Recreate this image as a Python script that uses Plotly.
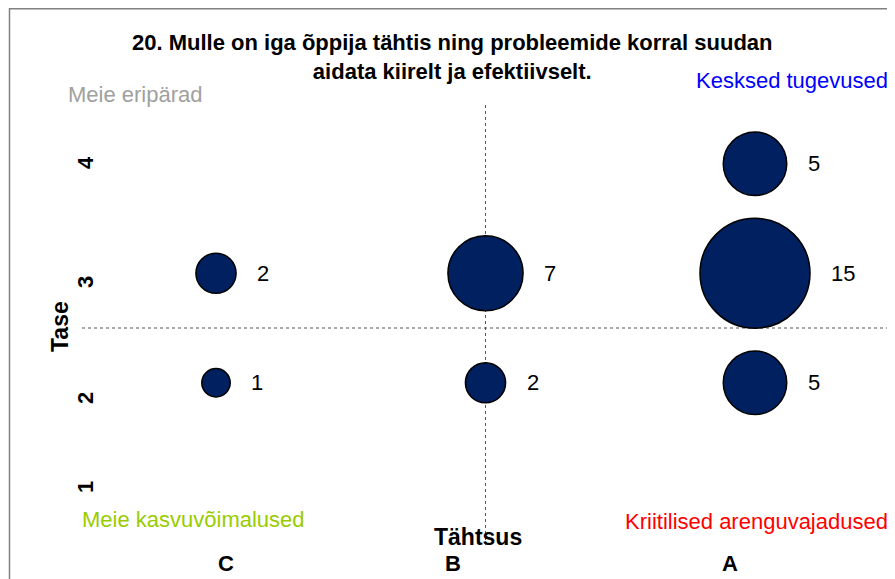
import plotly.graph_objects as go
import math

# ---- data ----
categories = ["C", "B", "A"]          # x categories (Tähtsus)
x_index = [1, 1, 2, 2, 3, 3, 3]        # 1=C, 2=B, 3=A
y_level = [3, 2, 3, 2, 4, 3, 2]        # Tase
counts = [2, 1, 7, 2, 5, 15, 5]
y_ticks = [1, 2, 3, 4]

# page body has an 8px default margin -> work in reference pixels, shift by OFF
OFF = 8
W, H = 895 - OFF, 579 - OFF
# plot area in reference pixels
PL, PR, PT, PB = 95, 889, 109, 547
ML, MR, MT, MB = PL - OFF, W - (PR - OFF), PT - OFF, H - (PB - OFF)
PW, PH = W - ML - MR, H - MT - MB

def px(xr):
    return (xr - OFF - ML) / PW

def py(yr):
    return (H - MB - (yr - OFF)) / PH

FONT = "Liberation Sans, Arial, sans-serif"
FS = 22
maxc = max(counts)
diam = [110 * math.sqrt(c / maxc) for c in counts]

fig = go.Figure()
fig.add_trace(go.Scatter(
    x=x_index, y=y_level, mode="markers",
    marker=dict(size=diam, sizemode="diameter", color="#00205f",
                line=dict(color="black", width=1.5), opacity=1),
    hoverinfo="skip", showlegend=False,
))

ann = []
for xi, yi, c, d in zip(x_index, y_level, counts, diam):
    ann.append(dict(x=xi, y=yi, xref="x", yref="y", text=str(c), showarrow=False,
                    xanchor="left", yanchor="middle", xshift=d / 2 + 19,
                    font=dict(family=FONT, size=FS, color="black")))

# title
title_text = ("<b>20. Mulle on iga õppija tähtis ning probleemide korral suudan<br>"
              "aidata kiirelt ja efektiivselt.</b>")
ann.append(dict(x=px(452), y=py(56.5), xref="paper", yref="paper", text=title_text,
                showarrow=False, xanchor="center", yanchor="middle", align="center",
                font=dict(family=FONT, size=22, color="black")))

# category labels
cat_px = [226, 453, 730]
for lab, xr in zip(categories, cat_px):
    ann.append(dict(x=px(xr), y=py(563), xref="paper", yref="paper", text="<b>%s</b>" % lab,
                    showarrow=False, xanchor="center", yanchor="middle",
                    font=dict(family=FONT, size=FS, color="black")))

# y tick labels (rotated)
ytick_py = [487, 398, 282, 163]
for lab, yr in zip(y_ticks, ytick_py):
    ann.append(dict(x=px(85), y=py(yr), xref="paper", yref="paper", text="<b>%d</b>" % lab,
                    showarrow=False, xanchor="center", yanchor="middle", textangle=-90,
                    font=dict(family=FONT, size=22, color="black")))

# axis titles
ann.append(dict(x=px(478), y=py(537), xref="paper", yref="paper", text="<b>Tähtsus</b>",
                showarrow=False, xanchor="center", yanchor="middle",
                font=dict(family=FONT, size=23, color="black")))
ann.append(dict(x=px(60), y=py(327), xref="paper", yref="paper", text="<b>Tase</b>",
                showarrow=False, xanchor="center", yanchor="middle", textangle=-90,
                font=dict(family=FONT, size=23, color="black")))

# quadrant labels
ann.append(dict(x=px(66), y=py(95), xref="paper", yref="paper", text="Meie eripärad",
                showarrow=False, xanchor="left", yanchor="middle",
                font=dict(family=FONT, size=FS, color="#a0a0a0")))
ann.append(dict(x=px(890), y=py(80), xref="paper", yref="paper", text="Kesksed tugevused",
                showarrow=False, xanchor="right", yanchor="middle",
                font=dict(family=FONT, size=FS, color="#0000ff")))
ann.append(dict(x=px(80), y=py(519), xref="paper", yref="paper", text="Meie kasvuvõimalused",
                showarrow=False, xanchor="left", yanchor="middle",
                font=dict(family=FONT, size=FS, color="#99cc00")))
ann.append(dict(x=px(890), y=py(521), xref="paper", yref="paper", text="Kriitilised arenguvajadused",
                showarrow=False, xanchor="right", yanchor="middle",
                font=dict(family=FONT, size=FS, color="#ff0000")))

shapes = [
    dict(type="line", xref="x", yref="paper", x0=2, x1=2, y0=py(105), y1=py(545),
         line=dict(color="#555555", width=1, dash="dot"), layer="below"),
    dict(type="line", xref="paper", yref="y", x0=px(82), x1=px(888), y0=2.5, y1=2.5,
         line=dict(color="#555555", width=1, dash="dot"), layer="below"),
    dict(type="rect", xref="paper", yref="paper", x0=px(9.5), x1=px(910), y0=py(8.7), y1=py(600),
         line=dict(color="#808080", width=1.5), fillcolor="rgba(0,0,0,0)"),
]

# x range chosen so that C,B,A centres fall at ref px 216, 486, 755
x_lo = 1 + (PL - 216) / 269.5
x_hi = 1 + (PR - 216) / 269.5

fig.update_layout(
    width=W, height=H,
    margin=dict(l=ML, r=MR, t=MT, b=MB),
    paper_bgcolor="white", plot_bgcolor="white",
    xaxis=dict(range=[x_lo, x_hi], showgrid=False, zeroline=False, showticklabels=False,
               showline=False, ticks=""),
    yaxis=dict(range=[0.5, 4.5], showgrid=False, zeroline=False, showticklabels=False,
               showline=False, ticks=""),
    annotations=ann, shapes=shapes,
)

fig.write_html("out.html")
